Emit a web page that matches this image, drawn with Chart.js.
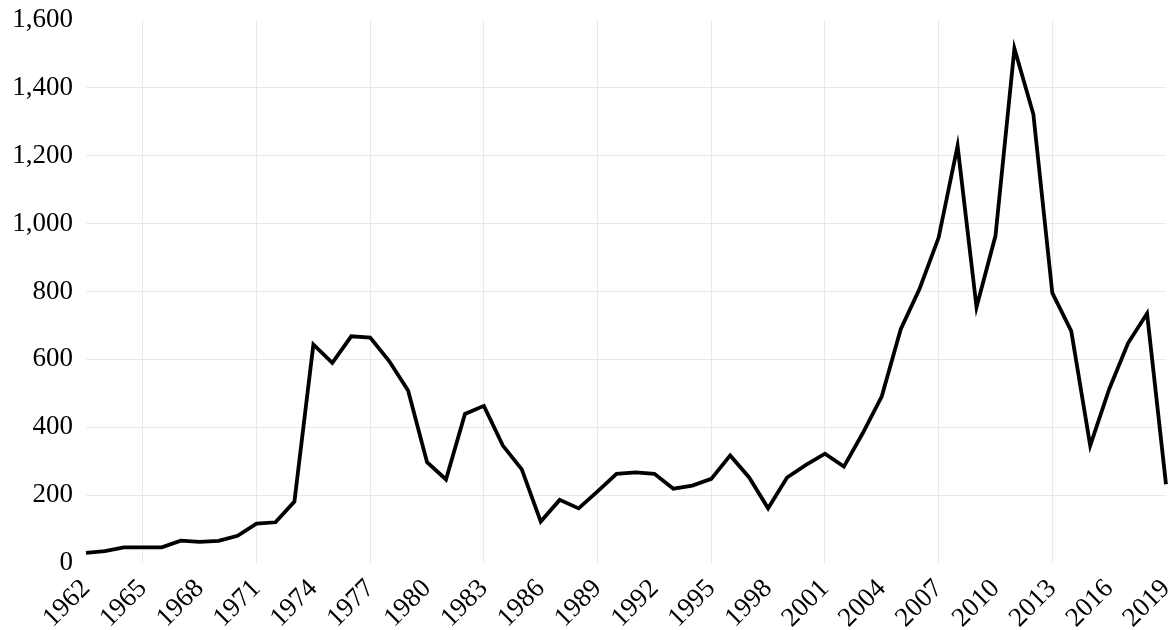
<!DOCTYPE html>
<html>
<head>
<meta charset="utf-8">
<script src="https://cdn.jsdelivr.net/npm/chart.js@4/dist/chart.umd.min.js"></script>
<style>
  html, body { margin: 0; padding: 0; background: #fff; }
  #wrap { width: 1175px; height: 630px; position: relative; }
</style>
</head>
<body>
<div id="wrap"><canvas id="c" width="1175" height="630"></canvas></div>
<script>
// Yearly series, 1962–2019
const years = [
  1962, 1963, 1964, 1965, 1966, 1967, 1968, 1969, 1970, 1971,
  1972, 1973, 1974, 1975, 1976, 1977, 1978, 1979, 1980, 1981,
  1982, 1983, 1984, 1985, 1986, 1987, 1988, 1989, 1990, 1991,
  1992, 1993, 1994, 1995, 1996, 1997, 1998, 1999, 2000, 2001,
  2002, 2003, 2004, 2005, 2006, 2007, 2008, 2009, 2010, 2011,
  2012, 2013, 2014, 2015, 2016, 2017, 2018, 2019
];
const values = [
  30, 35, 46, 46, 46, 66, 62, 65, 80, 116,
  120, 181, 644, 590, 668, 664, 595, 508, 297, 246,
  439, 463, 346, 276, 122, 186, 161, 211, 263, 267,
  263, 219, 228, 248, 317, 252, 161, 252, 289, 322,
  284, 383, 491, 689, 809, 959, 1229, 754, 964, 1516,
  1322, 796, 683, 346, 512, 648, 735, 232
];
// Labelled years on the x axis (every third year)
const xTickYears = [
  1962, 1965, 1968, 1971, 1974, 1977, 1980, 1983, 1986, 1989,
  1992, 1995, 1998, 2001, 2004, 2007, 2010, 2013, 2016, 2019
];
// Years carrying a vertical grid line
const xGridYears = [1965, 1971, 1977, 1983, 1989, 1995, 2001, 2007, 2013];
// Y axis range and step
const yMin = 0, yMax = 1600, yStep = 200;

const FONT = { family: '"Liberation Serif", "Times New Roman", serif', size: 27 };
const GRID = '#e9e9e9';

new Chart(document.getElementById('c'), {
  type: 'line',
  data: {
    labels: years.map(String),
    datasets: [{
      data: values,
      borderColor: '#000',
      borderWidth: 3.8,
      pointRadius: 0,
      pointHoverRadius: 0,
      tension: 0,
      fill: false,
      clip: false
    }]
  },
  options: {
    responsive: false,
    animation: false,
    events: [],
    layout: { padding: { top: 20, right: 9, left: 0, bottom: 0 } },
    plugins: { legend: { display: false }, tooltip: { enabled: false } },
    scales: {
      x: {
        type: 'category',
        offset: false,
        border: { display: false },
        grid: {
          drawTicks: false,
          tickLength: 0,
          lineWidth: 1,
          color: ctx => (ctx.tick && xGridYears.includes(years[ctx.index])) ? GRID : 'rgba(0,0,0,0)'
        },
        ticks: {
          autoSkip: false,
          minRotation: 45,
          maxRotation: 45,
          padding: 10,
          color: '#000',
          font: FONT,
          callback: (v, i) => xTickYears.includes(years[i]) ? String(years[i]) : ''
        },
        afterFit: s => { s.height = 67; s.paddingLeft = 0; s.paddingRight = 0; }
      },
      y: {
        min: yMin,
        max: yMax,
        border: { display: false },
        grid: {
          drawTicks: false,
          tickLength: 0,
          lineWidth: 1,
          color: ctx => (ctx.tick && ctx.tick.value > yMin && ctx.tick.value < yMax) ? GRID : 'rgba(0,0,0,0)'
        },
        ticks: {
          stepSize: yStep,
          padding: 13,
          color: '#000',
          font: FONT,
          callback: v => v.toLocaleString('en-US')
        },
        afterFit: s => { s.width = 86; s.paddingTop = 0; s.paddingBottom = 0; }
      }
    }
  }
});
</script>
</body>
</html>
